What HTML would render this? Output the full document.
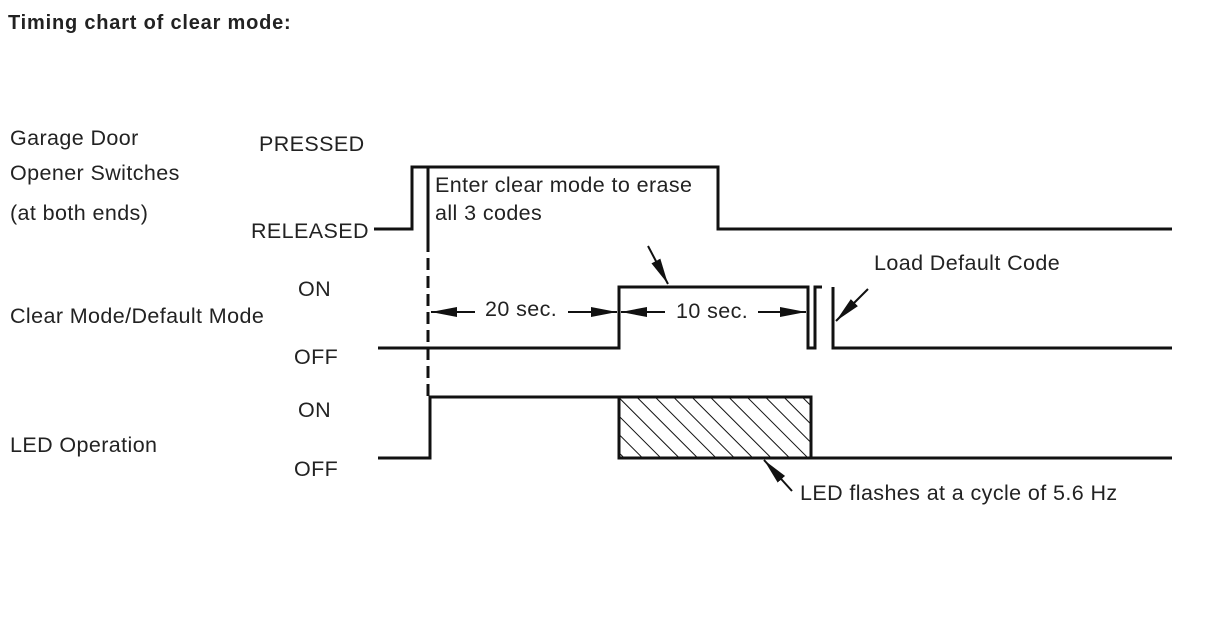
<!DOCTYPE html>
<html><head><meta charset="utf-8"><style>
html,body{margin:0;padding:0;background:#fff;}
svg{display:block;}
text{font-family:"Liberation Sans",Arial,sans-serif;fill:#222;font-size:21.5px;letter-spacing:0.4px;}
</style></head><body>
<svg width="1212" height="634" viewBox="0 0 1212 634" xmlns="http://www.w3.org/2000/svg">
<defs>
<pattern id="h" patternUnits="userSpaceOnUse" width="13" height="13" patternTransform="rotate(-45)">
<line x1="0" y1="0" x2="0" y2="13" stroke="#111" stroke-width="2"/>
</pattern>
<marker id="b" markerWidth="26" markerHeight="12" refX="26" refY="6" orient="auto" markerUnits="userSpaceOnUse"><path d="M0,1 L26,6 L0,11 z" fill="#111"/></marker>
</defs>
<text x="8" y="29" style="font-weight:bold;font-size:20px;letter-spacing:0.8px">Timing chart of clear mode:</text>
<text x="10" y="145">Garage Door</text>
<text x="10" y="180">Opener Switches</text>
<text x="10" y="220">(at both ends)</text>
<text x="259" y="151">PRESSED</text>
<text x="251" y="238">RELEASED</text>
<text x="298" y="296">ON</text>
<text x="10" y="323">Clear Mode/Default Mode</text>
<text x="294" y="364">OFF</text>
<text x="298" y="417">ON</text>
<text x="10" y="452">LED Operation</text>
<text x="294" y="476">OFF</text>
<text x="435" y="192">Enter clear mode to erase</text>
<text x="435" y="220">all 3 codes</text>
<text x="485" y="316">20 sec.</text>
<text x="676" y="318">10 sec.</text>
<text x="874" y="270">Load Default Code</text>
<text x="800" y="500">LED flashes at a cycle of 5.6 Hz</text>
<g fill="none" stroke="#111" stroke-width="3">
<polyline points="374,229 412,229 412,167 718,167 718,229 1172,229"/>
<line x1="428" y1="167" x2="428" y2="240"/>
<line x1="428" y1="240" x2="428" y2="398" stroke-dasharray="12,6"/>
<polyline points="378,348 619,348 619,287 808,287 808,348 815,348 815,287 822,287"/>
<polyline points="833,287 833,348 1172,348"/>
<polyline points="378,458 430,458 430,397 619,397"/>
<rect x="619" y="397" width="192" height="61" fill="url(#h)"/>
<line x1="811" y1="458" x2="1172" y2="458"/>
</g>
<g stroke="#111" stroke-width="2">
<line x1="475" y1="312" x2="431" y2="312" marker-end="url(#b)"/>
<line x1="568" y1="312" x2="617" y2="312" marker-end="url(#b)"/>
<line x1="665" y1="312" x2="621" y2="312" marker-end="url(#b)"/>
<line x1="758" y1="312" x2="806" y2="312" marker-end="url(#b)"/>
<line x1="648" y1="246" x2="668" y2="284" marker-end="url(#b)"/>
<line x1="868" y1="289" x2="836" y2="321" marker-end="url(#b)"/>
<line x1="792" y1="491" x2="764" y2="460" marker-end="url(#b)"/>
</g>
</svg>
</body></html>
